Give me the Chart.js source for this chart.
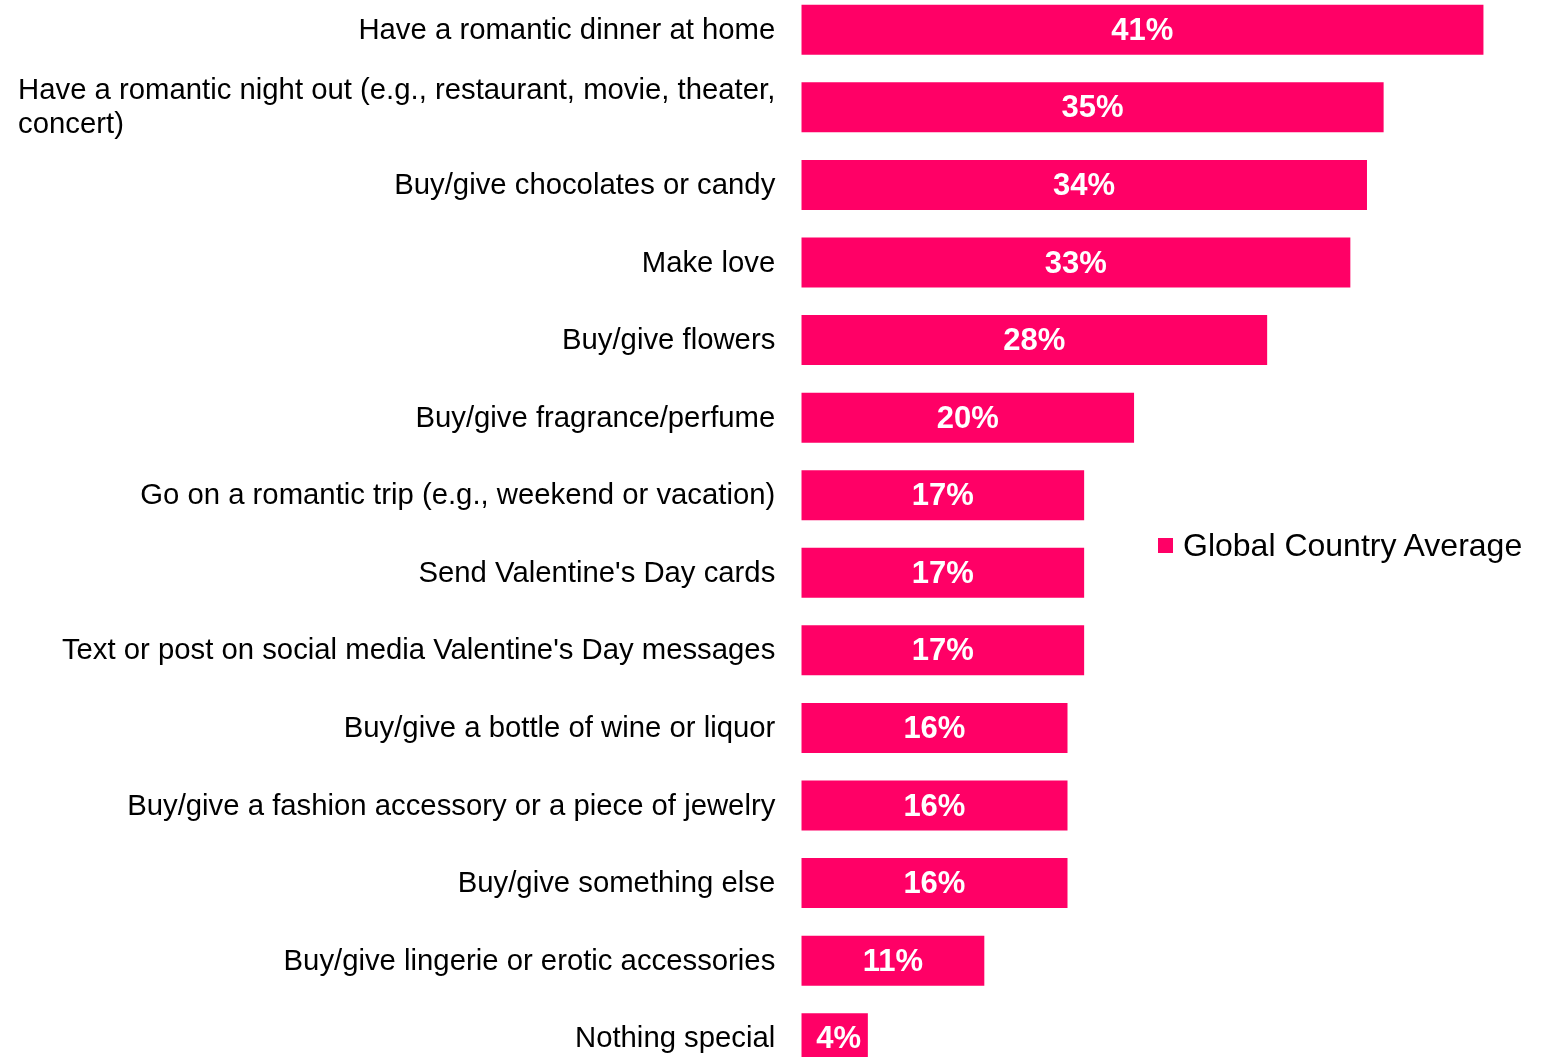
<!DOCTYPE html>
<html><head><meta charset="utf-8">
<script src="https://cdn.jsdelivr.net/npm/chart.js@4/dist/chart.umd.min.js"></script>
<style>
html,body{margin:0;padding:0;background:#fff;overflow:hidden;width:1552px;height:1057px;}
#wrap{position:absolute;left:0;top:-9px;width:1552px;height:1086px;}
#legend{position:absolute;left:1158px;top:525px;font-family:Arial,"Liberation Sans",sans-serif;font-size:32px;color:#000;display:flex;align-items:center;white-space:nowrap;line-height:40px;}
#legend .sw{width:15px;height:15px;margin-right:10px;display:inline-block;}
</style></head><body>
<div id="wrap"><canvas id="c"></canvas></div>
<div id="legend"></div>
<script>
const categories = [
  "Have a romantic dinner at home",
  ["Have a romantic night out (e.g., restaurant, movie, theater,", "concert)"],
  "Buy/give chocolates or candy",
  "Make love",
  "Buy/give flowers",
  "Buy/give fragrance/perfume",
  "Go on a romantic trip (e.g., weekend or vacation)",
  "Send Valentine's Day cards",
  "Text or post on social media Valentine's Day messages",
  "Buy/give a bottle of wine or liquor",
  "Buy/give a fashion accessory or a piece of jewelry",
  "Buy/give something else",
  "Buy/give lingerie or erotic accessories",
  "Nothing special"
];
const values = [41, 35, 34, 33, 28, 20, 17, 17, 17, 16, 16, 16, 11, 4];
const valueLabels = values.map(v => v + '%');
const seriesName = 'Global Country Average';
const barColor = 'rgb(255,0,102)';
const FONT = 'Arial, "Liberation Sans", sans-serif';

const lg = document.getElementById('legend');
const sw = document.createElement('span'); sw.className = 'sw'; sw.style.background = barColor;
const tx = document.createElement('span'); tx.textContent = seriesName;
lg.appendChild(sw); lg.appendChild(tx);

const labelPlugin = {
  id: 'labelPlugin',
  afterDraw(chart) {
    const ctx = chart.ctx;
    const ys = chart.scales.y;
    ctx.save();
    ctx.fillStyle = '#000';
    ctx.font = '29.3px ' + FONT;
    ctx.textBaseline = 'middle';
    ctx.textAlign = 'left';
    categories.forEach((lab, i) => {
      const y = ys.getPixelForTick(i) + 1;
      const lines = Array.isArray(lab) ? lab : [lab];
      const maxW = Math.max(...lines.map(l => ctx.measureText(l).width));
      const x0 = ys.right - 26 - maxW;
      const lh = 34;
      const y0 = y - (lines.length - 1) * lh / 2;
      lines.forEach((l, j) => ctx.fillText(l, x0, y0 + j * lh));
    });
    const meta = chart.getDatasetMeta(0);
    ctx.fillStyle = '#fff';
    ctx.font = 'bold 31px ' + FONT;
    ctx.textAlign = 'center';
    meta.data.forEach((bar, i) => {
      const w = ctx.measureText(valueLabels[i]).width;
      const cx = Math.max((bar.base + bar.x) / 2, bar.base + 15 + w / 2);
      ctx.fillText(valueLabels[i], cx, bar.y + 1.5);
    });
    ctx.restore();
  }
};

new Chart(document.getElementById('c'), {
  type: 'bar',
  data: {
    labels: categories,
    datasets: [{
      label: seriesName,
      data: values,
      backgroundColor: barColor,
      borderWidth: 0,
      categoryPercentage: 1,
      barPercentage: 0.6445
    }]
  },
  options: {
    indexAxis: 'y',
    responsive: true,
    maintainAspectRatio: false,
    animation: false,
    layout: { padding: { left: 0, right: 2, top: 0, bottom: 0 } },
    plugins: { legend: { display: false }, tooltip: { enabled: false } },
    scales: {
      x: { min: 0, max: 45, display: false },
      y: {
        grid: { display: false },
        border: { display: false },
        ticks: { display: false },
        afterFit(s) { s.width = 801.3; }
      }
    }
  },
  plugins: [labelPlugin]
});
</script>
</body></html>
